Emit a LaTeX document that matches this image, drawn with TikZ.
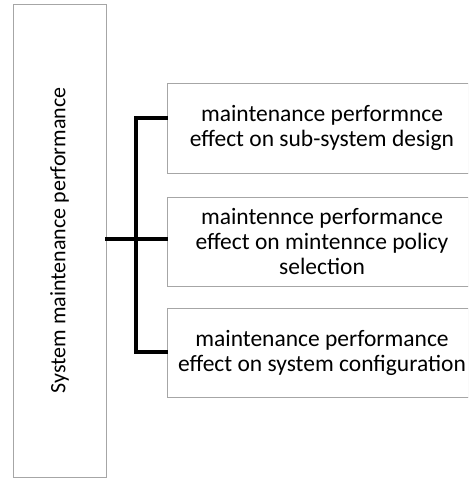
\documentclass[tikz,border=0pt]{standalone}
\usepackage{fontspec}
\setmainfont{Carlito}
\usetikzlibrary{shadows}

\tikzset{
  box/.style={draw=gray!70,fill=white,line width=0.8pt,align=center,
    font=\fontsize{23.5}{25}\selectfont,
    drop shadow={shadow xshift=1.2pt,shadow yshift=-1.2pt,fill=gray!60,opacity=0.6}},
  conn/.style={line width=3.2pt,line cap=rect}
}

\begin{document}
\begin{tikzpicture}[x=1pt,y=-1pt]
\useasboundingbox (0,0) rectangle (468,478);
\clip (0,0) rectangle (468,478);

% Bloc principal
\node[box,minimum width=93pt,minimum height=473pt]
(sys)
at (59.5,240.5)
{};
\node[rotate=90,font=\fontsize{22}{25}\selectfont]
(systxt)
at (sys.center)
{System maintenance performance};

% Effets
\node[box,minimum width=310pt,minimum height=90pt]
(design)
at (322,128)
{maintenance performnce\\effect on sub-system design};

\node[box,minimum width=310pt,minimum height=89pt]
(policy)
at (322,241.5)
{maintennce performance\\effect on mintennce policy\\selection};

\node[box,minimum width=310pt,minimum height=89pt]
(config)
at (322,352.5)
{maintenance performance\\effect on system configuration};

% Liaisons
\coordinate (hub) at (136,239);
\coordinate (jtop) at (136,118);
\coordinate (jbot) at (136,352);

\draw[conn] (sys.east |- hub) -- (hub);
\draw[conn] (jtop) -- (jbot);
\draw[conn] (jtop) -- (jtop -| design.west);
\draw[conn] (hub) -- (hub -| policy.west);
\draw[conn] (jbot) -- (jbot -| config.west);

\end{tikzpicture}
\end{document}
